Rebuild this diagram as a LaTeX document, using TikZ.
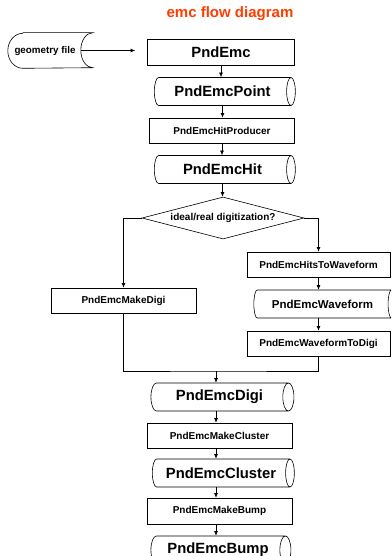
\documentclass[tikz,border=0pt]{standalone}
\usepackage{fontspec}
\setmainfont{Liberation Sans}
\usetikzlibrary{arrows.meta,shapes.geometric}

\definecolor{titlered}{RGB}{255,60,0}

\begin{document}
\begin{tikzpicture}[x=1pt,y=1pt,line width=0.6pt,>={Latex[length=4.5pt,width=3.8pt]},
  proc/.style={draw,rectangle,minimum width=145pt,minimum height=25pt,inner sep=0pt,font=\bfseries\fontsize{10}{12}\selectfont},
  store/.style={draw,cylinder,aspect=0.8,minimum height=141pt,minimum width=28pt,inner sep=0pt,font=\bfseries\fontsize{14.8}{17}\selectfont},
  choice/.style={draw,diamond,aspect=3.9,minimum width=162pt,minimum height=42pt,inner sep=0pt,font=\bfseries\fontsize{10}{12}\selectfont}]
  \clip (0,0) rectangle (391,-556);
  \node[text=titlered,font=\bfseries\fontsize{15}{18}\selectfont] (title) at (230,-14) {emc flow diagram};
  % input file
  \node[minimum width=85pt,minimum height=35pt,inner sep=0pt,font=\bfseries\fontsize{9.8}{12}\selectfont] (gf) at (50,-50.5) {\hspace*{-10pt}geometry file};
  \draw ([xshift=-70pt]gf.north east) -- (gf.north east) arc (90:270:12pt and 17.5pt) -- ([xshift=-70pt]gf.south east)
        arc (-90:-270:15pt and 17.5pt) -- cycle;
  \node[proc,minimum width=147pt,minimum height=26pt,font=\bfseries\fontsize{14.8}{17}\selectfont] (pe) at (221,-52) {PndEmc};
  \draw[->] ([xshift=-12pt]gf.east) -- ([xshift=-12pt]gf.east -| pe.west);
  % upper column
  \node[store] (pp) at (222.5,-91.5) {PndEmcPoint};
  \node[proc] (hp) at (222,-130.5) {PndEmcHitProducer};
  \node[store] (ph) at (222.5,-169.5) {PndEmcHit};
  \node[choice] (dg) at (223,-218) {ideal/real digitization?};
  \draw[->] (pe.south) -- (pe.south |- pp.north);
  \draw[->] (pp.south) -- (pp.south |- hp.north);
  \draw[->] (hp.south) -- (hp.south |- ph.north);
  \draw[->] (ph.south) -- (ph.south |- dg.north);
  % two branches
  \node[proc] (md) at (123.5,-300.5) {PndEmcMakeDigi};
  \node[proc,minimum width=143pt] (htw) at (318.5,-264.5) {PndEmcHitsToWaveform};
  \node[store,minimum height=141pt,font=\bfseries\fontsize{11.5}{14}\selectfont] (wf) at (322.5,-304) {PndEmcWaveform};
  \node[proc,minimum width=143pt] (wtd) at (318.5,-343.5) {PndEmcWaveformToDigi};
  \draw[->] (dg.west) -| (md.north);
  \draw[->] (dg.east) -| (htw.north);
  \draw[->] (htw.south) -- (htw.south |- wf.north);
  \draw[->] (wf.south -| htw.south) -- (wtd.north);
  % merge and lower column
  \coordinate (mrg) at (216,-371);
  \draw (md.south) |- (mrg) -| (wtd.south);
  \node[store,minimum height=143pt] (pd) at (219.5,-397) {PndEmcDigi};
  \node[proc] (mc) at (219.5,-435.5) {PndEmcMakeCluster};
  \node[store,minimum height=142pt] (pc) at (221,-473) {PndEmcCluster};
  \node[proc,minimum height=26pt] (mb) at (219.5,-511) {PndEmcMakeBump};
  \node[store,minimum height=140pt] (pb) at (218,-550) {PndEmcBump};
  \draw[->] (mrg) -- (mrg |- pd.north);
  \draw[->] (mrg |- pd.south) -- (mrg |- mc.north);
  \draw[->] (mrg |- mc.south) -- (mrg |- pc.north);
  \draw[->] (mrg |- pc.south) -- (mrg |- mb.north);
  \draw[->] (mrg |- mb.south) -- (mrg |- pb.north);
\end{tikzpicture}
\end{document}
